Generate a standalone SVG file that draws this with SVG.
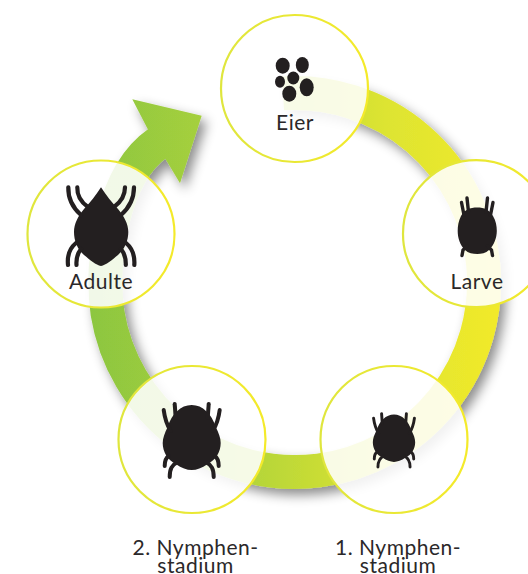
<svg xmlns="http://www.w3.org/2000/svg" width="528" height="574" viewBox="0 0 528 574">
<style>
.disc{fill:#fff;fill-opacity:.88;stroke:url(#edge);stroke-width:2.2}
.lbl{font-family:"Lato","Open Sans",sans-serif;font-size:21px;letter-spacing:.5px;fill:#2b2829;text-anchor:middle}
.ink{fill:#231f20}
.leg{fill:none;stroke:#231f20;stroke-linecap:round}
</style>
<defs>
<linearGradient id="band" gradientUnits="userSpaceOnUse" x1="89" y1="0" x2="501" y2="0">
<stop offset="0" stop-color="#8cc63f"/><stop offset=".28" stop-color="#a6d03e"/><stop offset=".55" stop-color="#c8dc35"/><stop offset=".72" stop-color="#dde431"/><stop offset="1" stop-color="#f2ea2a"/>
</linearGradient>
<linearGradient id="edge" x1="0" y1="0" x2="1" y2="0">
<stop offset="0" stop-color="#dfe63e"/><stop offset="1" stop-color="#f4ea2a"/>
</linearGradient>
<filter id="shade" x="-15%" y="-15%" width="130%" height="130%">
<feDropShadow dx="5" dy="6" stdDeviation="6" flood-color="#000" flood-opacity=".45"/>
</filter>
<g id="nymph">
<path class="ink" d="M0,-35 C11,-35 20,-26 24,-13 C27,-7 29,-2 29,3 C29,12 24,20 16,24 C10,28 5,30 0,30 C-5,30 -10,28 -16,24 C-24,20 -29,12 -29,3 C-29,-2 -27,-7 -24,-13 C-20,-26 -11,-35 0,-35Z"/>
<g class="leg" stroke-width="4">
<path d="M-28,-30 C-27,-22 -26,-17 -21,-9"/><path d="M28,-30 C27,-22 26,-17 21,-9"/>
<path d="M-17,-36 L-16,-22"/><path d="M17,-36 L16,-22"/>
<path d="M-27,26 C-27,21 -26,18 -23,16"/><path d="M27,26 C27,21 26,18 23,16"/>
<path d="M-22,37 C-22,29 -20,25 -14,22"/><path d="M22,37 C22,29 20,25 14,22"/>
</g>
</g>
</defs>
<g id="connectors" filter="url(#shade)">
<path d="M283,93.4 A189.5,189.5 0 1 1 107.5,313 C100,260 112,175 158,143" fill="none" stroke="url(#band)" stroke-width="34"/>
<polygon points="132.3,99.3 201.7,115.7 180,183.3 165,158.3 147.7,129" fill="url(#band)"/>
</g>
<g id="node-eier">
<circle class="disc" cx="294.5" cy="88.5" r="73.5"/>
<g class="ink">
<ellipse cx="282.7" cy="65.7" rx="7" ry="8"/><ellipse cx="302.3" cy="65" rx="6.5" ry="8"/><ellipse cx="293.3" cy="78" rx="6" ry="6.5"/><ellipse cx="280" cy="81.7" rx="5" ry="6"/><ellipse cx="306.7" cy="87.3" rx="7" ry="9"/><ellipse cx="289.3" cy="93.7" rx="7" ry="8"/>
</g>
<text class="lbl" x="295" y="130">Eier</text>
</g>
<g id="node-larve">
<circle class="disc" cx="476.5" cy="233.7" r="73.5"/>
<path class="ink" d="M477.3,207.5 C484,207.5 490,210 493,216 C496,221 496.8,226 496.8,231 C496.8,238 494,245 489,250 C486,253 481,254 477.3,254 C473,254 468,253 465,250 C460,245 457.7,238 457.7,231 C457.7,226 458.5,221 461,216 C464,210 470,207.5 477.3,207.5Z"/>
<g class="leg" stroke-width="3.4" stroke-linecap="butt">
<path d="M467,198 L468.5,212"/><path d="M487.5,198 L486,212"/>
<path d="M461.5,202.5 L464,215"/><path d="M493,202.5 L490.5,215"/>
<path d="M462,255.5 L463,250 L467,246"/><path d="M492.5,255.5 L491.5,250 L487.5,246"/>
</g>
<text class="lbl" x="477" y="289">Larve</text>
</g>
<g id="node-adulte">
<circle class="disc" cx="101" cy="234" r="73.5"/>
<path class="ink" d="M101,187.3 C106,195 112,203 118,209 C124,216 128.3,224 128.3,232 C128.3,240 125,249 118,255 C112,260 106,265 101,266 C96,265 90,260 84,255 C77,249 74,240 74,232 C74,224 78,216 84,209 C90,203 96,195 101,187.3Z"/>
<g class="leg" stroke-width="4.2" stroke-linecap="butt">
<path d="M68.3,187.3 C68,199 73,208 81,215"/><path d="M134,187.3 C134,199 129,208 121,215"/>
<path d="M77.3,187.3 C77,195 81,202 88,207"/><path d="M125,187.3 C125,195 121,202 114,207"/>
<path d="M68,265 C67,255 70,248 76,243"/><path d="M134.3,265 C135,255 132,248 126,243"/>
<path d="M76.5,265 C76,258 77,254 81,249"/><path d="M125.8,265 C126,258 125,254 121,249"/>
</g>
<text class="lbl" x="101" y="289">Adulte</text>
</g>
<g id="node-nymphe-2">
<circle class="disc" cx="192" cy="439.5" r="73.5"/>
<use href="#nymph" transform="translate(191.7,440)"/>
</g>
<g id="node-nymphe-1">
<circle class="disc" cx="394" cy="439.5" r="73.5"/>
<use href="#nymph" transform="translate(394,440) scale(.73)"/>
</g>
<g id="label-2">
<text class="lbl" x="195.5" y="555">2. Nymphen-</text>
<text class="lbl" x="195.5" y="573">stadium</text>
</g>
<g id="label-1">
<text class="lbl" x="398" y="555">1. Nymphen-</text>
<text class="lbl" x="398" y="573">stadium</text>
</g>
</svg>
